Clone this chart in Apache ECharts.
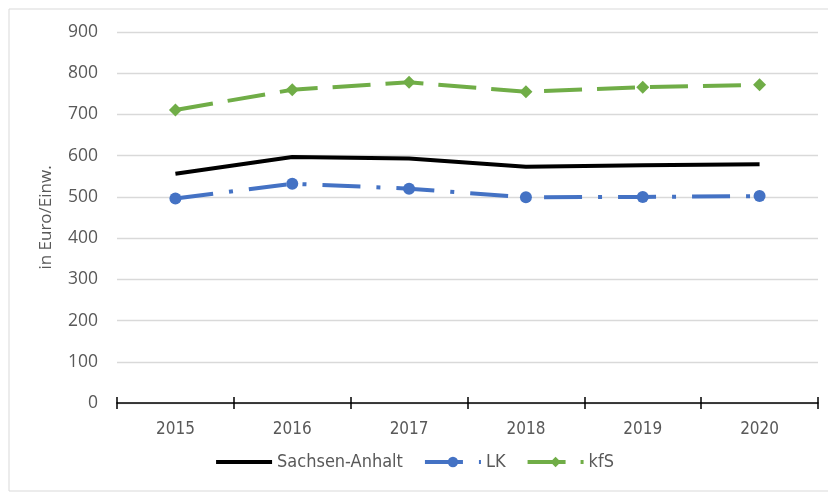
<!DOCTYPE html>
<html>
<head>
<meta charset="utf-8">
<script src="https://cdn.jsdelivr.net/npm/echarts@6/dist/echarts.min.js"></script>
<style>
  html, body { margin: 0; padding: 0; background: #fff; }
  #chart { width: 828px; height: 495px; }
</style>
</head>
<body>
<div id="chart"></div>
<script>
var years = ['2015', '2016', '2017', '2018', '2019', '2020'];
var sachsenAnhalt = [556, 597, 593, 573, 577, 579];
var lk = [496, 532, 520, 499, 500, 502];
var kfs = [711, 760, 778, 755, 766, 772];
var yTicks = { min: 0, max: 900, interval: 100 };

var txtColor = '#595959';
var narrow = '"Liberation Sans Narrow", "DejaVu Sans Condensed", sans-serif';

var chart = echarts.init(document.getElementById('chart'));

var option = {
  animation: false,
  backgroundColor: '#fff',
  graphic: [{
    type: 'rect',
    shape: { x: 9, y: 9, width: 840, height: 482 },
    style: { fill: 'none', stroke: '#d9d9d9', lineWidth: 1 },
    silent: true
  }],
  grid: { left: 117, right: 10, top: 32, bottom: 92 },
  legend: {
    bottom: 19,
    left: 'center',
    itemWidth: 56,
    itemHeight: 13,
    itemGap: 20,
    textStyle: { color: txtColor, fontSize: 18, fontFamily: narrow },
    data: [
      { name: 'Sachsen-Anhalt', itemStyle: { opacity: 0 }, lineStyle: { width: 4, opacity: 1 } },
      { name: 'LK', lineStyle: { width: 4 } },
      { name: 'kfS', lineStyle: { width: 4 } }
    ]
  },
  xAxis: [{
    type: 'category',
    data: years,
    boundaryGap: true,
    axisLine: { lineStyle: { color: '#000', width: 1.5 } },
    axisTick: { show: true, length: 6, lineStyle: { color: '#000', width: 1.5 } },
    axisLabel: { color: txtColor, fontSize: 17, fontFamily: narrow, margin: 18 },
    splitLine: { show: false }
  }, {
    type: 'category',
    data: years,
    position: 'bottom',
    boundaryGap: true,
    axisLine: { show: false },
    axisTick: { show: true, inside: true, length: 6, lineStyle: { color: '#000', width: 1.5 } },
    axisLabel: { show: false },
    splitLine: { show: false }
  }],
  yAxis: {
    type: 'value',
    min: yTicks.min,
    max: yTicks.max,
    interval: yTicks.interval,
    name: 'in Euro/Einw.',
    nameLocation: 'middle',
    nameGap: 62,
    nameTextStyle: { color: txtColor, fontSize: 17, fontFamily: '"Open Sans", sans-serif' },
    axisLine: { show: false },
    axisTick: { show: false },
    axisLabel: { color: txtColor, fontSize: 17.5, fontFamily: '"Open Sans", sans-serif', margin: 19 },
    splitLine: { lineStyle: { color: '#d9d9d9', width: 1.3 } }
  },
  series: [{
    name: 'Sachsen-Anhalt',
    type: 'line',
    data: sachsenAnhalt,
    showSymbol: false,
    symbol: 'none',
    lineStyle: { color: '#000', width: 4 },
    itemStyle: { color: '#000' },
    z: 3
  }, {
    name: 'LK',
    type: 'line',
    data: lk,
    symbol: 'circle',
    symbolSize: 12,
    lineStyle: { color: '#4472c4', width: 4, type: [38, 16, 4, 16] },
    itemStyle: { color: '#4472c4' },
    z: 3
  }, {
    name: 'kfS',
    type: 'line',
    data: kfs,
    symbol: 'diamond',
    symbolSize: 13,
    lineStyle: { color: '#70ad47', width: 4, type: [38, 15] },
    itemStyle: { color: '#70ad47' },
    z: 3
  }]
};

chart.setOption(option);
</script>
</body>
</html>
